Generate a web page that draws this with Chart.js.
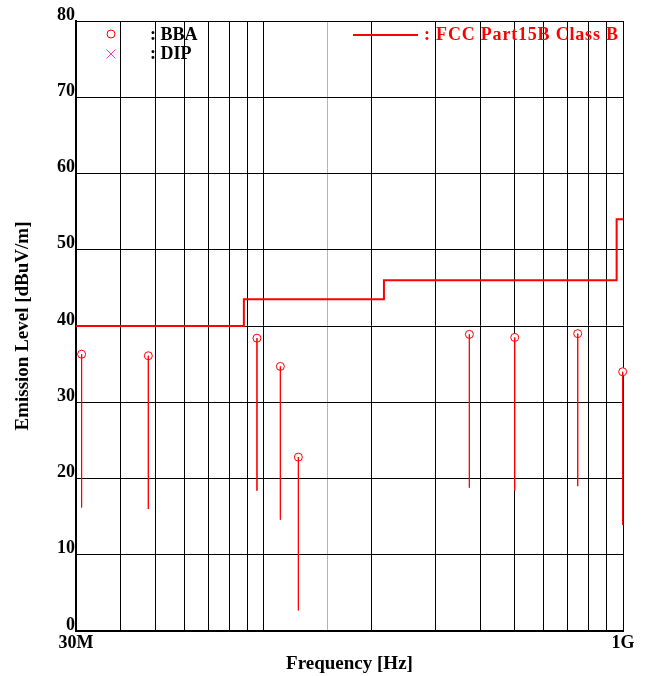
<!DOCTYPE html>
<html>
<head>
<meta charset="utf-8">
<script src="https://cdn.jsdelivr.net/npm/chart.js@4.4.1/dist/chart.umd.min.js"></script>
<style>
  html, body { margin: 0; padding: 0; background: #fff; }
</style>
</head>
<body>
<canvas id="chart" width="647" height="676"></canvas>
<script>
// x grid positions (MHz), only the ends get a label
const freqGrid = [30, 40, 50, 60, 70, 80, 90, 100, 150, 200, 300, 400, 500, 600, 700, 800, 900, 1000];
const freqLabels = { 30: "30M", 1000: "1G" };

// FCC Part15B Class B limit, step line
const limitFreqs = [30, 88, 216, 960, 1000];
const limitLevels = [40, 43.5, 46, 54, 54];

// BBA readings: peak (circle) and lower end of the stem
const bbaFreqs = [31.1, 47.7, 95.7, 111.2, 124.8, 373.5, 499.5, 748, 998];
const bbaPeaks = [36.3, 36.1, 38.4, 34.7, 22.8, 38.9, 38.5, 39.0, 34.0];
const bbaLows = [16.2, 16.0, 18.4, 14.6, 2.7, 18.8, 18.4, 19.0, 13.9];

const serif = '"Liberation Serif", "Times New Roman", serif';

// stems: pairs of points split by a gap
const stemData = [];
bbaFreqs.forEach((f, i) => {
  stemData.push({ x: f, y: bbaPeaks[i] });
  stemData.push({ x: f, y: bbaLows[i] });
  stemData.push({ x: f, y: null });
});

const legendPlugin = {
  id: "legendText",
  afterDraw(chart) {
    const ctx = chart.ctx;
    const a = chart.chartArea;
    ctx.save();
    ctx.font = "bold 18px " + serif;
    ctx.textBaseline = "middle";

    // BBA
    ctx.strokeStyle = "#ff0000";
    ctx.lineWidth = 1;
    ctx.beginPath();
    ctx.arc(a.left + 35, 34, 4, 0, Math.PI * 2);
    ctx.stroke();
    ctx.fillStyle = "#000";
    ctx.fillText(": BBA", a.left + 74, 35);

    // DIP
    ctx.strokeStyle = "#ff33cc";
    ctx.beginPath();
    ctx.moveTo(a.left + 30.5, 49.5); ctx.lineTo(a.left + 39.5, 58.5);
    ctx.moveTo(a.left + 39.5, 49.5); ctx.lineTo(a.left + 30.5, 58.5);
    ctx.stroke();
    ctx.fillText(": DIP", a.left + 74, 54);

    // limit
    ctx.strokeStyle = "#ff0000";
    ctx.lineWidth = 2;
    ctx.beginPath();
    ctx.moveTo(353, 35); ctx.lineTo(418, 35);
    ctx.stroke();
    ctx.fillStyle = "#ff0000";
    ctx.letterSpacing = "0.8px";
    ctx.fillText(": FCC Part15B Class B", 424, 35);
    ctx.restore();
  }
};

new Chart(document.getElementById("chart"), {
  data: {
    datasets: [
      {
        type: "line",
        label: "FCC Part15B Class B",
        data: limitFreqs.map((f, i) => ({ x: f, y: limitLevels[i] })),
        stepped: "before",
        borderColor: "#ff0000",
        borderWidth: 2,
        pointRadius: 0,
        clip: false
      },
      {
        type: "line",
        label: "stems",
        data: stemData,
        borderColor: "rgba(255,0,0,0.85)",
        borderWidth: 1,
        pointRadius: 0,
        spanGaps: false,
        clip: false
      },
      {
        type: "scatter",
        label: "BBA",
        data: bbaFreqs.map((f, i) => ({ x: f, y: bbaPeaks[i] })),
        pointStyle: "circle",
        pointRadius: 4,
        borderColor: "#ff0000",
        backgroundColor: "#ffffff",
        borderWidth: 1,
        clip: false
      }
    ]
  },
  options: {
    responsive: false,
    animation: false,
    devicePixelRatio: 1,
    layout: { padding: { top: 21, right: 24, left: 0, bottom: 0 } },
    plugins: {
      legend: { display: false },
      tooltip: { enabled: false }
    },
    scales: {
      x: {
        type: "logarithmic",
        min: 30,
        max: 1000,
        afterBuildTicks: (scale) => {
          scale.ticks = freqGrid.map((v) => ({ value: v }));
        },
        afterFit: (scale) => { scale.height = 45; },
        grid: {
          drawTicks: false,
          color: (c) => (c.tick && c.tick.value === 150 ? "#b5b5b5" : "#000000"),
          lineWidth: 1
        },
        border: { color: "#000", width: 2 },
        ticks: {
          autoSkip: false,
          maxRotation: 0,
          padding: 2,
          color: "#000",
          font: { family: serif, size: 18, weight: "bold" },
          callback: (v) => freqLabels[v] || ""
        },
        title: {
          display: true,
          text: "Frequency [Hz]",
          color: "#000",
          font: { family: serif, size: 19, weight: "bold" },
          padding: { top: 0, bottom: 1 }
        }
      },
      y: {
        min: 0,
        max: 80,
        afterFit: (scale) => { scale.width = 76; },
        grid: { drawTicks: false, color: "#000000", lineWidth: 1 },
        border: { color: "#000", width: 2 },
        ticks: {
          stepSize: 10,
          padding: 1,
          labelOffset: -6,
          color: "#000",
          font: { family: serif, size: 18, weight: "bold" }
        },
        title: {
          display: true,
          text: "Emission Level [dBuV/m]",
          color: "#000",
          font: { family: serif, size: 19, weight: "bold" },
          padding: { top: 12, bottom: 0 }
        }
      }
    }
  },
  plugins: [legendPlugin]
});
</script>
</body>
</html>
